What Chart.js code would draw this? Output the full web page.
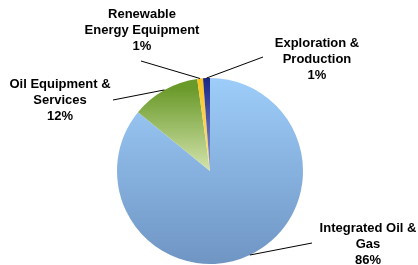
<!DOCTYPE html>
<html>
<head>
<meta charset="utf-8">
<script src="https://cdn.jsdelivr.net/npm/chart.js@4.4.0/dist/chart.umd.min.js"></script>
<style>
  html, body { margin: 0; padding: 0; background: #fff; }
  #wrap { width: 418px; height: 265px; }
</style>
</head>
<body>
<div id="wrap"><canvas id="pie" width="418" height="265"></canvas></div>
<script>
// sector shares, clockwise from 12 o'clock
const sectors = ['Integrated Oil & Gas', 'Oil Equipment & Services', 'Renewable Energy Equipment', 'Exploration & Production'];
const shares = [85.9, 11.9, 1.0, 1.2];
const shareText = ['86%', '12%', '1%', '1%'];
const labelLines = [
    ['Integrated Oil &', 'Gas'],
    ['Oil Equipment &', 'Services'],
    ['Renewable', 'Energy Equipment'],
    ['Exploration &', 'Production']
];

// where Excel put each callout (text centre x, first line y, leader end)
const callouts = [
    { x: 368, y: 228, lx: 312, ly: 243 },
    { x: 60, y: 84, lx: 113, ly: 100 },
    { x: 142, y: 14, lx: 141, ly: 61 },
    { x: 317, y: 43, lx: 263, ly: 57 }
];

function sliceFill(c) {
    const chart = c.chart;
    const a = chart.chartArea;
    if (!a) return '#8db8e6';
    const g = chart.ctx;
    const midY = (a.top + a.bottom) / 2;
    let grad;
    switch (c.dataIndex) {
        case 0:
            grad = g.createLinearGradient(0, a.top, 0, a.bottom);
            grad.addColorStop(0, '#9ecdfa');
            grad.addColorStop(1, '#6f95c3');
            return grad;
        case 1:
            grad = g.createLinearGradient(0, a.top + 10, 0, midY);
            grad.addColorStop(0, '#6a9a2a');
            grad.addColorStop(1, '#d4e4ad');
            return grad;
        case 2:
            grad = g.createLinearGradient(0, a.top, 0, midY);
            grad.addColorStop(0, '#fbc51f');
            grad.addColorStop(1, '#fde08a');
            return grad;
        default:
            grad = g.createLinearGradient(0, a.top, 0, midY);
            grad.addColorStop(0, '#1b2885');
            grad.addColorStop(1, '#8a95d6');
            return grad;
    }
}

const calloutPlugin = {
    id: 'callouts',
    afterDraw(chart) {
        const ctx = chart.ctx;
        const arcs = chart.getDatasetMeta(0).data;
        ctx.save();
        arcs.forEach((arc, i) => {
            const p = arc.getProps(['x', 'y', 'startAngle', 'endAngle', 'outerRadius'], true);
            const mid = (p.startAngle + p.endAngle) / 2;
            const sx = p.x + Math.cos(mid) * p.outerRadius;
            const sy = p.y + Math.sin(mid) * p.outerRadius;
            const c = callouts[i];
            ctx.strokeStyle = '#000';
            ctx.lineWidth = 1;
            ctx.beginPath();
            ctx.moveTo(sx, sy);
            ctx.lineTo(c.lx, c.ly);
            ctx.stroke();

            ctx.fillStyle = '#000';
            ctx.font = 'bold 13px "Liberation Sans", Arial, sans-serif';
            ctx.textAlign = 'center';
            ctx.textBaseline = 'middle';
            const lines = labelLines[i].concat([shareText[i]]);
            lines.forEach((t, k) => ctx.fillText(t, c.x, c.y + k * 16.3));
        });
        ctx.restore();
    }
};

new Chart(document.getElementById('pie'), {
    type: 'pie',
    data: {
        labels: sectors,
        datasets: [{
            data: shares,
            backgroundColor: sliceFill,
            borderWidth: 0
        }]
    },
    options: {
        responsive: false,
        animation: false,
        layout: { padding: { top: 78, bottom: 1, left: 117, right: 115 } },
        plugins: {
            legend: { display: false },
            tooltip: { enabled: false }
        }
    },
    plugins: [calloutPlugin]
});
</script>
</body>
</html>
